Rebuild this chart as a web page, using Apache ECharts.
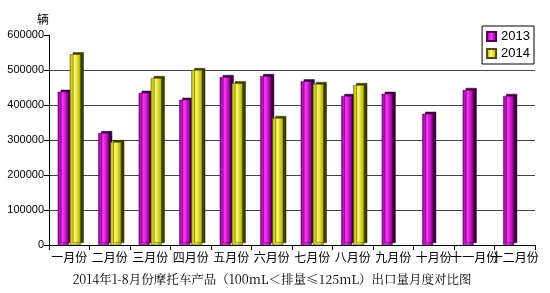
<!DOCTYPE html>
<html><head><meta charset="utf-8">
<script src="https://cdn.jsdelivr.net/npm/echarts@6/dist/echarts.min.js"></script>
<style>html,body{margin:0;padding:0;background:#fff}#c{width:550px;height:293px}</style>
</head><body><div id="c"></div>
<script>
const categories = ['一月份','二月份','三月份','四月份','五月份','六月份','七月份','八月份','九月份','十月份','十一月份','十二月份'];
const seriesNames = ['2013','2014'];
const values2013 = [438000,320000,435000,415000,480000,483000,468000,426000,432000,375000,443000,426000];
const values2014 = [545000,294000,477000,500000,462000,363000,460000,457000,null,null,null,null];
const yTicks = [0,100000,200000,300000,400000,500000,600000];

const chart = echarts.init(document.getElementById('c'));
const purple = new echarts.graphic.LinearGradient(0,0,1,0,[
  {offset:0,color:'#8a008a'},{offset:0.45,color:'#ff33ff'},{offset:1,color:'#800080'}]);
const yellow = new echarts.graphic.LinearGradient(0,0,1,0,[
  {offset:0,color:'#b3b300'},{offset:0.45,color:'#ffff66'},{offset:1,color:'#a6a600'}]);
chart.setOption({
  animation:false,
  textStyle:{fontFamily:'"Noto Sans CJK SC", sans-serif'},
  grid:{left:49,right:15,top:35,bottom:48},
  legend:{
    orient:'vertical',right:16,top:26,
    data:seriesNames,icon:'rect',
    itemWidth:9,itemHeight:9,itemGap:4,
    borderColor:'#000',borderWidth:1,padding:[4,4,4,4],
    textStyle:{fontSize:13,color:'#000',fontFamily:'Arial,"Liberation Sans",sans-serif'}
  },
  xAxis:{
    type:'category',data:categories,
    axisLine:{lineStyle:{color:'#000'}},
    axisTick:{show:true,lineStyle:{color:'#000'}},
    axisLabel:{interval:0,color:'#000',fontSize:12,margin:6},
    name:'2014年1-8月份摩托车产品（100mL＜排量≤125mL）出口量月度对比图',
    nameLocation:'middle',nameGap:28,
    nameTextStyle:{color:'#000',fontSize:12.5,padding:[0,40,0,0],fontFamily:'"Noto Serif CJK SC","Noto Sans CJK SC",serif'}
  },
  yAxis:{
    type:'value',min:yTicks[0],max:yTicks[yTicks.length-1],interval:100000,
    name:'辆',nameLocation:'end',nameGap:10,
    nameTextStyle:{color:'#000',fontSize:12,align:'right',padding:[0,0,0,0]},
    axisLine:{show:true,lineStyle:{color:'#000'}},
    axisTick:{show:true,lineStyle:{color:'#000'}},
    axisLabel:{color:'#000',fontSize:11,margin:5,formatter:v=>String(v),fontFamily:'Arial, "Liberation Sans", sans-serif'},
    splitLine:{lineStyle:{color:'#444',width:1},showMinLine:false,showMaxLine:false}
  },
  series:[
    {name:seriesNames[0],type:'bar',data:values2013,barWidth:11,barGap:'10%',
     itemStyle:{color:purple,borderColor:'#4d004d',borderWidth:0.5,shadowColor:'#3a003a',shadowOffsetX:3,shadowOffsetY:-2,shadowBlur:0}},
    {name:seriesNames[1],type:'bar',data:values2014,barWidth:11,
     itemStyle:{color:yellow,borderColor:'#4d4d00',borderWidth:0.5,shadowColor:'#3a3a00',shadowOffsetX:3,shadowOffsetY:-2,shadowBlur:0}}
  ]
});
</script></body></html>
